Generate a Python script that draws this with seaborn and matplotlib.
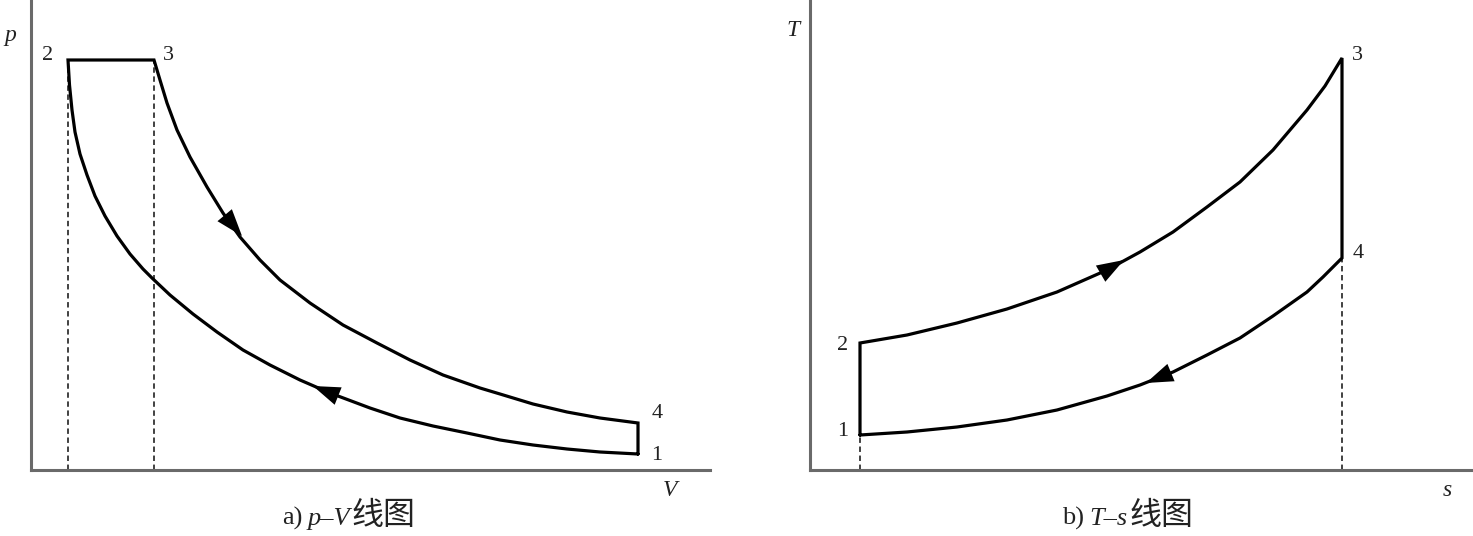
import matplotlib
matplotlib.use('Agg')

import numpy as np
import pandas as pd
from matplotlib import pyplot as plt
import seaborn as sns

# p-V diagram, values (arbitrary units)
V_12 = [638, 600, 567, 533, 500, 467, 433, 400, 370, 330, 300, 270, 243, 217, 193, 170,
        152, 143, 130, 117, 105, 95, 87, 80, 75, 72, 69.5, 68]
p_12 = [16, 18, 21, 25, 30, 37, 44, 52, 62, 77, 90, 105, 120, 138, 156, 175,
        192, 201, 216, 234, 254, 274, 295, 316, 338, 360, 385, 410]
V_23 = [68, 154]
p_23 = [410, 410]
V_34 = [154, 160, 167, 177, 190, 207, 223, 240, 260, 280, 310, 343, 377, 410, 443, 480,
        500, 533, 567, 600, 638]
p_34 = [410, 390, 367, 340, 313, 283, 257, 233, 210, 190, 167, 145, 127, 110, 95, 82,
        76, 66, 58, 52, 47]
V_41 = [638, 638]
p_41 = [47, 16]

# T-s diagram
s_12 = [860, 860]
T_12 = [35, 127]
s_23 = [860, 907, 957, 1007, 1057, 1107, 1140, 1173, 1207, 1240, 1273, 1307, 1325, 1342]
T_23 = [127, 135, 147, 161, 178, 200, 218, 238, 263, 288, 320, 360, 384, 412]
s_34 = [1342, 1342]
T_34 = [412, 212]
s_41 = [1342, 1323, 1307, 1273, 1240, 1207, 1173, 1140, 1107, 1057, 1007, 957, 907, 860]
T_41 = [212, 193, 178, 154, 132, 115, 98, 85, 74, 60, 50, 43, 38, 35]

# direction arrows: (tail x, tail y, tip x, tip y)
pv_arrows = [(222, 258, 242, 234), (343, 72, 313, 84)]
ts_arrows = [(1100, 196, 1124, 210), (1170, 97, 1146, 87)]

pv_points = ['1', '2', '3', '4']
pv_label_pos = [(657, 15), (48, 415), (168, 415), (657, 57)]
ts_points = ['1', '2', '3', '4']
ts_label_pos = [(843, 38), (843, 125), (1357, 415), (1358, 217)]

sns.set_style('white')
plt.rcParams['font.family'] = ['Liberation Serif', 'Noto Sans CJK SC', 'DejaVu Sans']

W, H = 1473, 536
fig = plt.figure(figsize=(W / 100, H / 100), dpi=100)
ax1 = fig.add_axes([31 / W, 66 / H, 679 / W, 470 / H])
ax2 = fig.add_axes([810 / W, 66 / H, 663 / W, 470 / H])

txt = '#222222'
spine_c = '#6a6a6a'

pv = pd.DataFrame({'V': V_12 + V_23 + V_34 + V_41, 'p': p_12 + p_23 + p_34 + p_41})
ts = pd.DataFrame({'s': s_12 + s_23 + s_34 + s_41, 'T': T_12 + T_23 + T_34 + T_41})

sns.lineplot(data=pv, x='V', y='p', sort=False, estimator=None, ax=ax1,
             color='black', lw=2.3, solid_joinstyle='miter')
sns.lineplot(data=ts, x='s', y='T', sort=False, estimator=None, ax=ax2,
             color='black', lw=2.3, solid_joinstyle='miter')

# dashed guide lines down to the axis
for v in [V_23[0], V_23[1]]:
    ax1.plot([v, v], [0, p_23[0]], color='#333333', lw=1.3, ls=(0, (3, 2)), zorder=1)
ax2.plot([s_12[0]] * 2, [0, T_12[0]], color='#333333', lw=1.3, ls=(0, (3, 2)), zorder=1)
ax2.plot([s_34[0]] * 2, [0, T_34[1]], color='#333333', lw=1.3, ls=(0, (3, 2)), zorder=1)

for ax, arrows in [(ax1, pv_arrows), (ax2, ts_arrows)]:
    for x0, y0, x1, y1 in arrows:
        ax.annotate('', xy=(x1, y1), xytext=(x0, y0),
                    arrowprops=dict(arrowstyle='-|>,head_length=1.3,head_width=0.45',
                                    color='black', lw=0, shrinkA=0, shrinkB=0,
                                    mutation_scale=15))

for ax, names, pos in [(ax1, pv_points, pv_label_pos), (ax2, ts_points, ts_label_pos)]:
    for n, (x, y) in zip(names, pos):
        ax.text(x, y, n, fontsize=16, color=txt, ha='center', va='center')

ax1.text(10, 435, 'p', fontsize=17, style='italic', color=txt, ha='center', va='center')
ax1.text(670, -20, 'V', fontsize=17, style='italic', color=txt, ha='center', va='center')
ax2.text(793, 440, 'T', fontsize=17, style='italic', color=txt, ha='center', va='center')
ax2.text(1447, -20, 's', fontsize=17, style='italic', color=txt, ha='center', va='center')


def caption(ax, x, y, head, body):
    t1 = ax.text(x, y, head, fontsize=19, color=txt, ha='left', va='center')
    t2 = ax.annotate(body, xy=(1, 0), xycoords=t1, xytext=(4, 0), textcoords='offset points',
                     fontsize=19, style='italic', color=txt, ha='left', va='bottom')
    ax.annotate('线图', xy=(1, 0), xycoords=t2, xytext=(1, -1), textcoords='offset points',
                fontsize=23, color=txt, ha='left', va='bottom', family='Noto Sans CJK SC')


caption(ax1, 282, -48, 'a)', 'p–V')
caption(ax2, 1062, -48, 'b)', 'T–s')

for ax, xl in [(ax1, (31, 710)), (ax2, (810, 1473))]:
    ax.set_xlim(*xl)
    ax.set_ylim(0, 470)
    ax.set_xticks([])
    ax.set_yticks([])
    ax.set_xlabel('')
    ax.set_ylabel('')
    ax.patch.set_alpha(0)
    sns.despine(ax=ax)
    for side in ['left', 'bottom']:
        ax.spines[side].set_color(spine_c)
        ax.spines[side].set_linewidth(2.2)

fig.savefig('out.png', dpi=100)
